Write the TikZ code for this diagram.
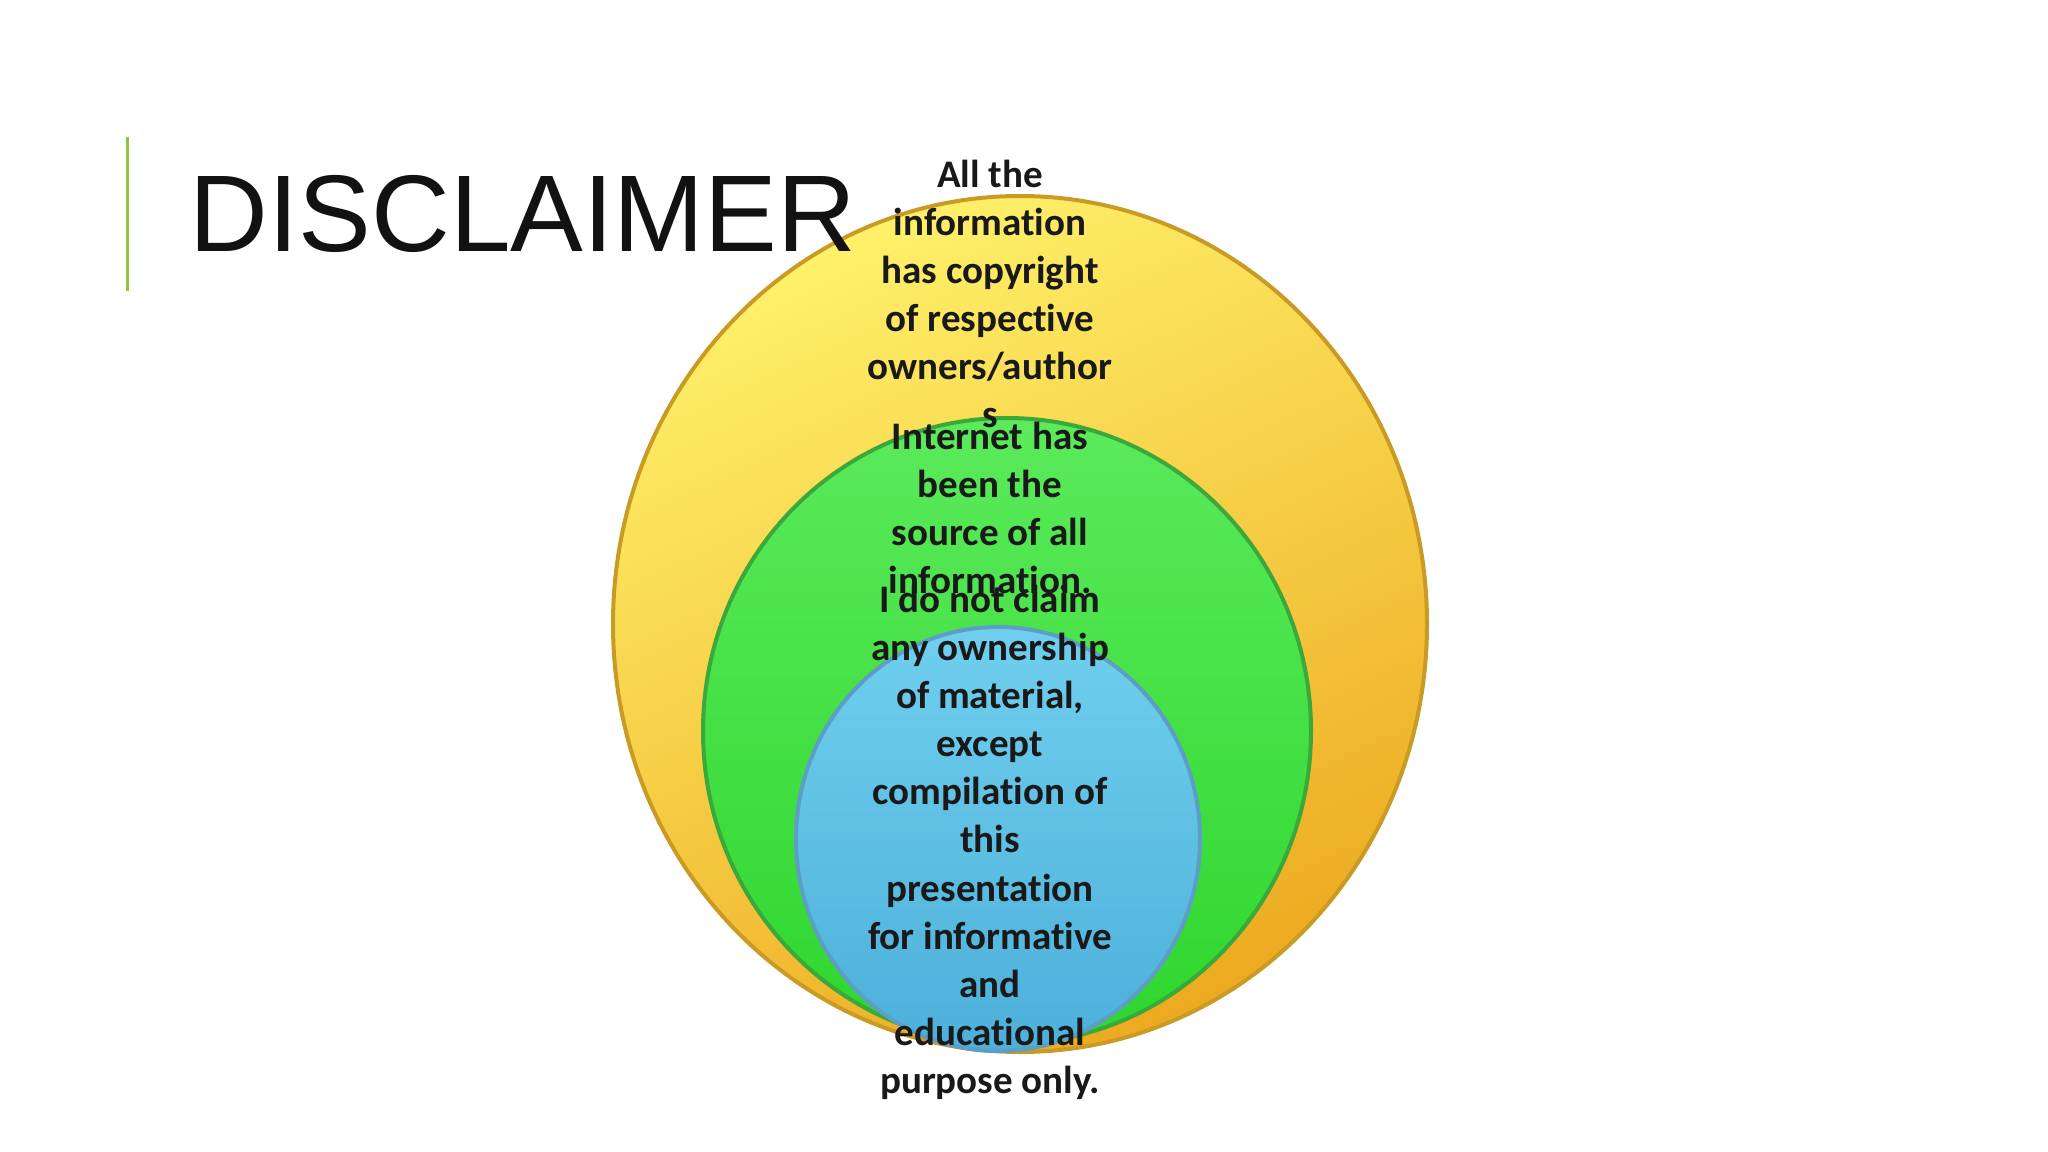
\documentclass[tikz,border=0pt]{standalone}
\usepackage{fontspec}
\setmainfont{Liberation Sans}
\newfontfamily\ringfont[Ligatures=NoCommon]{Carlito}
\definecolor{barGreen}{HTML}{8DC63F}
\definecolor{goldLight}{HTML}{FFF06A}
\definecolor{goldDark}{HTML}{ECAA20}
\definecolor{goldLine}{HTML}{C99A24}
\definecolor{leafLight}{HTML}{5BEA5B}
\definecolor{leafDark}{HTML}{2ED62E}
\definecolor{leafLine}{HTML}{3AA83A}
\definecolor{skyLight}{HTML}{70CFEE}
\definecolor{skyDark}{HTML}{4DB0DA}
\definecolor{skyLine}{HTML}{5C9EC4}
\tikzset{
  titlebar/.style = {barGreen, line width=0.03cm},
  titletext/.style = {inner sep=0, text=black!93, font=\fontsize{31}{36}\selectfont},
  ring/.style = {line width=0.04cm, shading=axis, shading angle=30},
  ringtext/.style = {inner sep=0, align=center, text=black!90,
    font=\ringfont\bfseries\fontsize{11.1}{13.7}\selectfont}
}
\begin{document}
\begin{tikzpicture}[x=0.01cm, y=-0.01cm]
  \useasboundingbox [fill=white] (0,0) rectangle (2048,1152);
  % nested rings
  \path [ring, draw=goldLine, top color=goldLight, bottom color=goldDark, shading angle=25]
    (1020,624) ellipse [x radius=407, y radius=428];
  \path [ring, draw=leafLine, top color=leafLight, bottom color=leafDark]
    (1007,731) ellipse [x radius=304, y radius=313];
  \path [ring, draw=skyLine, top color=skyLight, bottom color=skyDark]
    (998,839) ellipse [x radius=202, y radius=212];
  % title
  \coordinate (bartop) at (127,137);
  \coordinate (barbot) at (127,291);
  \draw [titlebar] (bartop) -- (barbot);
  \node [titletext, anchor=base west] (title) at (189,252) {DISCLAIMER};
  % ring texts
  \node [ringtext, anchor=north] (copyright) at (990,159)
    {All the\\information\\has copyright\\of respective\\owners/author\\s};
  \node [ringtext, anchor=north] (source) at (990,421)
    {Internet has\\been the\\source of all\\information.};
  \node [ringtext, anchor=north] (claim) at (990,584)
    {I do not claim\\any ownership\\of material,\\except\\compilation of\\this\\presentation\\for informative\\and\\educational\\purpose only.};
\end{tikzpicture}
\end{document}
